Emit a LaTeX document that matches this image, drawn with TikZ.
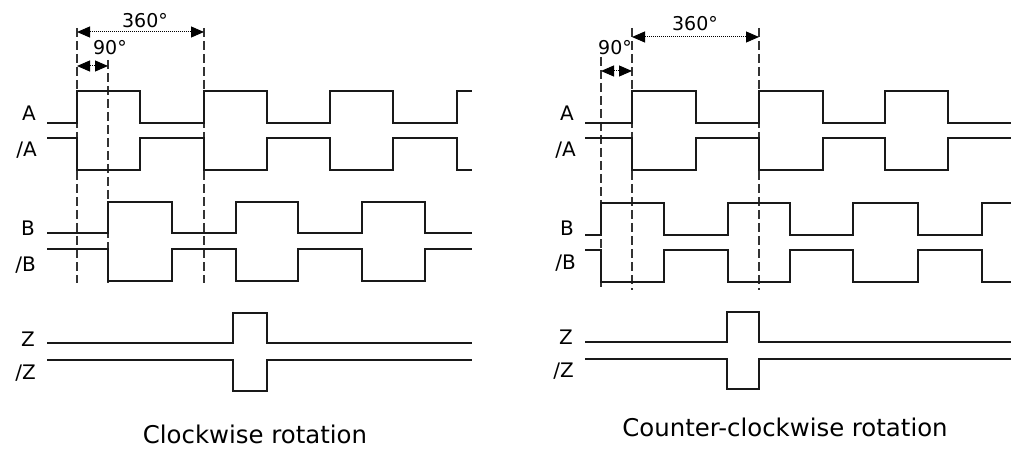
\documentclass[tikz,border=0pt]{standalone}
\usepackage{fontspec}
\setmainfont{DejaVu Sans}
\usetikzlibrary{arrows.meta}
\begin{document}
\begin{tikzpicture}[x=1pt,y=-1pt,
  signal/.style={line width=2.1pt,line join=miter,black!90},
  guide/.style={line width=1.2pt,dash pattern=on 9pt off 4pt,black!80},
  span/.style={line width=1pt,densely dotted,{Triangle[length=13pt,width=11pt]}-{Triangle[length=13pt,width=11pt]}},
  chan/.style={anchor=base east,inner sep=0pt,font=\fontsize{20}{20}\selectfont},
  deg/.style={anchor=base,inner sep=0pt,font=\fontsize{19}{19}\selectfont},
  caption/.style={anchor=base,inner sep=0pt,font=\fontsize{24.4}{24.4}\selectfont}]
\useasboundingbox (0,0) rectangle (1017,457);

% ---------- clockwise ----------
\coordinate (g1t) at (77,28);   \coordinate (g1b) at (77,283);
\coordinate (g2t) at (108,60);  \coordinate (g2b) at (108,283);
\coordinate (g3t) at (204,28);  \coordinate (g3b) at (204,283);
\draw[guide] (g1t) -- (g1b);
\draw[guide] (g2t) -- (g2b);
\draw[guide] (g3t) -- (g3b);
\coordinate (p360a) at (77,32);  \coordinate (p360b) at (204,32);
\coordinate (p90a) at (77,66);   \coordinate (p90b) at (108,66);
\draw[span] (p360a) -- (p360b);
\draw[span] (p90a) -- (p90b);
\node[deg] (cw360) at (145,28) {360°};
\node[deg] (cw90) at (110,55) {90°};

\draw[signal] (47,123)--(77,123)--(77,91)--(140,91)--(140,123)--(204,123)--(204,91)--(267,91)--(267,123)--(330,123)--(330,91)--(393,91)--(393,123)--(457,123)--(457,91)--(472,91);
\draw[signal] (47,138)--(77,138)--(77,170)--(140,170)--(140,138)--(204,138)--(204,170)--(267,170)--(267,138)--(330,138)--(330,170)--(393,170)--(393,138)--(457,138)--(457,170)--(472,170);
\draw[signal] (47,233)--(108,233)--(108,202)--(172,202)--(172,233)--(236,233)--(236,202)--(298,202)--(298,233)--(362,233)--(362,202)--(425,202)--(425,233)--(472,233);
\draw[signal] (47,249)--(108,249)--(108,281)--(172,281)--(172,249)--(236,249)--(236,281)--(298,281)--(298,249)--(362,249)--(362,281)--(425,281)--(425,249)--(472,249);
\draw[signal] (47,343)--(233,343)--(233,313)--(267,313)--(267,343)--(472,343);
\draw[signal] (47,360)--(233,360)--(233,391)--(267,391)--(267,360)--(472,360);

\node[chan] (cwA)  at (36,121) {A};
\node[chan] (cwnA) at (37,157) {/A};
\node[chan] (cwB)  at (35,236) {B};
\node[chan] (cwnB) at (36,271) {/B};
\node[chan] (cwZ)  at (35,346) {Z};
\node[chan] (cwnZ) at (36,379) {/Z};
\node[caption] (cwcap) at (255,443) {Clockwise rotation};

% ---------- counter-clockwise ----------
\coordinate (h1t) at (601,57);  \coordinate (h1b) at (601,290);
\coordinate (h2t) at (632,28);  \coordinate (h2b) at (632,290);
\coordinate (h3t) at (759,28);  \coordinate (h3b) at (759,290);
\draw[guide] (h1t) -- (h1b);
\draw[guide] (h2t) -- (h2b);
\draw[guide] (h3t) -- (h3b);
\coordinate (q360a) at (632,37); \coordinate (q360b) at (759,37);
\coordinate (q90a) at (601,71);  \coordinate (q90b) at (632,71);
\draw[span] (q360a) -- (q360b);
\draw[span] (q90a) -- (q90b);
\node[deg] (ccw360) at (695,31) {360°};
\node[deg] (ccw90) at (615,55) {90°};

\draw[signal] (585,123)--(632,123)--(632,91)--(696,91)--(696,123)--(759,123)--(759,91)--(823,91)--(823,123)--(885,123)--(885,91)--(948,91)--(948,123)--(1011,123);
\draw[signal] (585,138)--(632,138)--(632,170)--(696,170)--(696,138)--(759,138)--(759,170)--(823,170)--(823,138)--(885,138)--(885,170)--(948,170)--(948,138)--(1011,138);
\draw[signal] (585,235)--(601,235)--(601,203)--(664,203)--(664,235)--(728,235)--(728,203)--(790,203)--(790,235)--(853,235)--(853,203)--(918,203)--(918,235)--(982,235)--(982,203)--(1011,203);
\draw[signal] (585,250)--(601,250)--(601,282)--(664,282)--(664,250)--(728,250)--(728,282)--(790,282)--(790,250)--(853,250)--(853,282)--(918,282)--(918,250)--(982,250)--(982,282)--(1011,282);
\draw[signal] (585,342)--(727,342)--(727,312)--(759,312)--(759,342)--(1011,342);
\draw[signal] (585,359)--(727,359)--(727,389)--(759,389)--(759,359)--(1011,359);

\node[chan] (ccwA)  at (574,121) {A};
\node[chan] (ccwnA) at (576,157) {/A};
\node[chan] (ccwB)  at (574,235) {B};
\node[chan] (ccwnB) at (576,269) {/B};
\node[chan] (ccwZ)  at (573,344) {Z};
\node[chan] (ccwnZ) at (574,377) {/Z};
\node[caption] (ccwcap) at (785,436) {Counter-clockwise rotation};
\end{tikzpicture}
\end{document}
